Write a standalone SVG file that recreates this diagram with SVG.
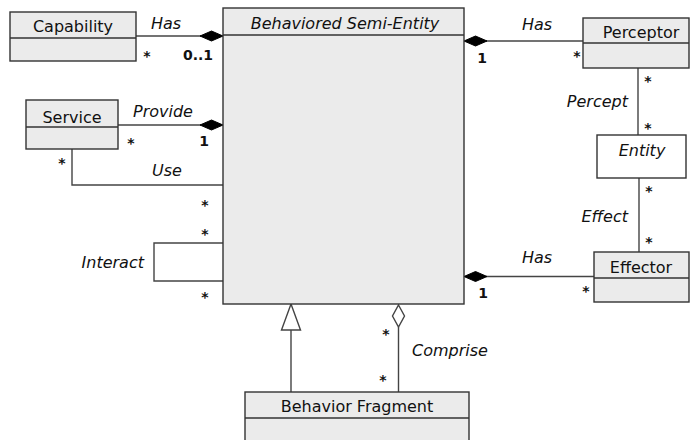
<svg xmlns="http://www.w3.org/2000/svg" width="691" height="440" viewBox="0 0 691 440">
  <style>
    .box { fill: #ebebeb; stroke: #333; stroke-width: 1.4; }
    .plain { fill: #ffffff; stroke: #333; stroke-width: 1.4; }
    .div { stroke: #333; stroke-width: 1.4; fill: none; }
    .name { font-family: "DejaVu Sans", sans-serif; font-size: 16px; fill: #111; text-anchor: middle; }
    .iname { font-style: italic; }
    .lbl { font-family: "DejaVu Sans", sans-serif; font-size: 16px; font-style: italic; fill: #111; }
    .mult { font-family: "DejaVu Sans", sans-serif; font-size: 14px; font-weight: bold; fill: #111; text-anchor: middle; }
    .ln { stroke: #444; stroke-width: 1.4; fill: none; }
    .comp { fill: #000; stroke: #000; stroke-width: 1; }
    .hollow { fill: #fff; stroke: #444; stroke-width: 1.4; }
  </style>

  <rect x="0" y="0" width="691" height="440" fill="#ffffff"/>

  <!-- associations -->
  <g id="connectors">
    <!-- Capability - Has -->
    <line class="ln" x1="136" y1="36" x2="201" y2="36"/>
    <polygon class="comp" points="200,36 211.5,31 223,36 211.5,41"/>
    <!-- Service - Provide -->
    <line class="ln" x1="118" y1="125" x2="201" y2="125"/>
    <polygon class="comp" points="200,125 211.5,120 223,125 211.5,130"/>
    <!-- Service - Use -->
    <polyline class="ln" points="72,149 72,185 223,185"/>
    <!-- Interact self loop -->
    <polyline class="ln" points="223,243 154,243 154,281 223,281"/>
    <!-- Perceptor - Has -->
    <line class="ln" x1="486" y1="41" x2="583" y2="41"/>
    <polygon class="comp" points="464,41 475.5,36 487,41 475.5,46"/>
    <!-- Percept -->
    <line class="ln" x1="638" y1="68" x2="638" y2="135"/>
    <!-- Effect -->
    <line class="ln" x1="639" y1="178" x2="639" y2="252"/>
    <!-- Effector - Has -->
    <line class="ln" x1="486" y1="276.5" x2="594" y2="276.5"/>
    <polygon class="comp" points="464,276.5 475.5,271.5 487,276.5 475.5,281.5"/>
    <!-- Generalization -->
    <line class="ln" x1="291" y1="392" x2="291" y2="330"/>
    <polygon class="hollow" points="291,304 300.5,330 281.5,330"/>
    <!-- Comprise aggregation -->
    <line class="ln" x1="398.5" y1="392" x2="398.5" y2="327"/>
    <polygon class="hollow" points="398.5,305 404.5,316 398.5,327 392.5,316"/>

    <!-- association labels -->
    <text class="lbl" x="151" y="29">Has</text>
    <text class="lbl" x="133" y="117">Provide</text>
    <text class="lbl" x="152" y="176">Use</text>
    <text class="lbl" x="144" y="268" text-anchor="end">Interact</text>
    <text class="lbl" x="522" y="30">Has</text>
    <text class="lbl" x="628" y="107" text-anchor="end">Percept</text>
    <text class="lbl" x="628" y="222" text-anchor="end">Effect</text>
    <text class="lbl" x="522" y="263">Has</text>
    <text class="lbl" x="412" y="356">Comprise</text>

    <!-- multiplicities -->
    <text class="mult" x="147" y="61">*</text>
    <text class="mult" x="198" y="60">0..1</text>
    <text class="mult" x="131" y="148">*</text>
    <text class="mult" x="204" y="146">1</text>
    <text class="mult" x="62" y="168">*</text>
    <text class="mult" x="205" y="210">*</text>
    <text class="mult" x="205" y="239">*</text>
    <text class="mult" x="205" y="302">*</text>
    <text class="mult" x="482" y="63">1</text>
    <text class="mult" x="577" y="61">*</text>
    <text class="mult" x="648" y="86">*</text>
    <text class="mult" x="648" y="133">*</text>
    <text class="mult" x="649" y="196">*</text>
    <text class="mult" x="649" y="247">*</text>
    <text class="mult" x="483" y="298">1</text>
    <text class="mult" x="586" y="296">*</text>
    <text class="mult" x="386" y="339">*</text>
    <text class="mult" x="383" y="385">*</text>
  </g>

  <g id="capability">
    <rect class="box" x="10" y="12" width="126" height="49"/>
    <line class="div" x1="10" y1="38" x2="136" y2="38"/>
    <text class="name" x="73" y="31.5">Capability</text>
  </g>

  <g id="behaviored-semi-entity">
    <rect class="box" x="223" y="8" width="241" height="296"/>
    <line class="div" x1="223" y1="35" x2="464" y2="35"/>
    <text class="name iname" x="345" y="28.5">Behaviored Semi-Entity</text>
  </g>

  <g id="service">
    <rect class="box" x="26" y="100" width="92" height="49"/>
    <line class="div" x1="26" y1="127" x2="118" y2="127"/>
    <text class="name" x="72" y="122.5">Service</text>
  </g>

  <g id="perceptor">
    <rect class="box" x="583" y="18" width="106" height="50"/>
    <line class="div" x1="583" y1="43" x2="689" y2="43"/>
    <text class="name" x="641" y="38.3">Perceptor</text>
  </g>

  <g id="entity">
    <rect class="plain" x="597" y="135" width="89" height="43"/>
    <text class="name iname" x="642" y="156">Entity</text>
  </g>

  <g id="effector">
    <rect class="box" x="594" y="252" width="95" height="50"/>
    <line class="div" x1="594" y1="278" x2="689" y2="278"/>
    <text class="name" x="641" y="273.3">Effector</text>
  </g>

  <g id="behavior-fragment">
    <rect class="box" x="245" y="392" width="224" height="60"/>
    <line class="div" x1="245" y1="418" x2="469" y2="418"/>
    <text class="name" x="357" y="412.3">Behavior Fragment</text>
  </g>
</svg>
